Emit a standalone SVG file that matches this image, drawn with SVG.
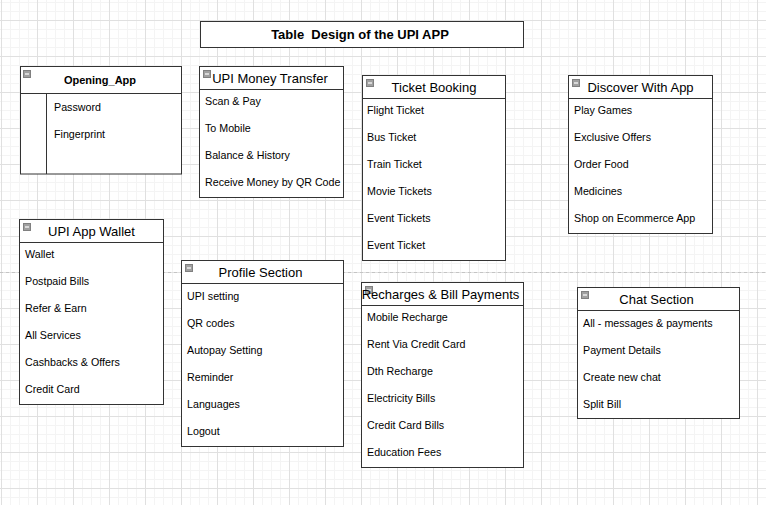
<svg xmlns="http://www.w3.org/2000/svg" width="766" height="505" viewBox="0 0 766 505">
<defs>
<pattern id="minor" patternUnits="userSpaceOnUse" x="1" y="2" width="9" height="9">
<path d="M0.5 0V9M0 0.5H9" stroke="#f4f4f4" stroke-width="1" fill="none"/>
</pattern>
<pattern id="major" patternUnits="userSpaceOnUse" x="1" y="20" width="36" height="36">
<path d="M0.5 0V36M0 0.5H36" stroke="#e0e0e0" stroke-width="1" fill="none"/>
</pattern>
<g id="icon">
<rect x="0.5" y="0.5" width="7" height="7" fill="#a0a0a0" stroke="#808080" stroke-width="1"/>
<path d="M2 4H6" stroke="#fff" stroke-width="1.2"/>
</g>
</defs>
<style>
.box{fill:#fff;stroke:#333;stroke-width:1}
.ln{stroke:#333;stroke-width:1;fill:none}
.t{font-family:"Liberation Sans",Arial,sans-serif;font-size:13px;fill:#000;text-anchor:middle}
.i{font-family:"Liberation Sans",Arial,sans-serif;font-size:10.7px;fill:#000}
.b{font-family:"Liberation Sans",Arial,sans-serif;font-weight:bold;fill:#000;text-anchor:middle}
</style>
<rect width="766" height="505" fill="#fff"/>
<rect width="766" height="505" fill="url(#minor)"/>
<rect width="766" height="505" fill="url(#major)"/>
<path d="M0 272.5H766" stroke="#c4c4c4" stroke-width="1" stroke-dasharray="3,3" fill="none"/>

<g id="title">
<rect class="box" x="200.5" y="21.5" width="323" height="26"/>
<text class="b" x="360" y="39" font-size="13" xml:space="preserve">Table  Design of the UPI APP</text>
</g>

<g id="opening-app">
<rect class="box" x="20.5" y="66.5" width="161" height="107.5"/>
<path class="ln" d="M20.5 93.5H181.5M46.5 93.5V174"/>
<use href="#icon" x="23" y="70"/>
<text class="b" x="100" y="84" font-size="11">Opening_App</text>
<text class="i" x="54" y="111">Password</text>
<text class="i" x="54" y="138">Fingerprint</text>
</g>

<g id="upi-money-transfer">
<rect class="box" x="199.5" y="66.5" width="144" height="131"/>
<path class="ln" d="M199.5 89.5H343.5"/>
<use href="#icon" x="203" y="70"/>
<text class="t" x="270" y="82.5">UPI Money Transfer</text>
<text class="i" x="205" y="105">Scan &amp; Pay</text>
<text class="i" x="205" y="132">To Mobile</text>
<text class="i" x="205" y="159">Balance &amp; History</text>
<text class="i" x="205" y="186">Receive Money by QR Code</text>
</g>

<g id="ticket-booking">
<rect class="box" x="362.5" y="75.5" width="143" height="185"/>
<path class="ln" d="M362.5 98.5H505.5"/>
<use href="#icon" x="366" y="79"/>
<text class="t" x="434" y="91.5">Ticket Booking</text>
<text class="i" x="367" y="114">Flight Ticket</text>
<text class="i" x="367" y="141">Bus Ticket</text>
<text class="i" x="367" y="168">Train Ticket</text>
<text class="i" x="367" y="195">Movie Tickets</text>
<text class="i" x="367" y="222">Event Tickets</text>
<text class="i" x="367" y="249">Event Ticket</text>
</g>

<g id="discover-with-app">
<rect class="box" x="568.5" y="75.5" width="144" height="158"/>
<path class="ln" d="M568.5 98.5H712.5"/>
<use href="#icon" x="572" y="79"/>
<text class="t" x="640.5" y="91.5">Discover With App</text>
<text class="i" x="574" y="114">Play Games</text>
<text class="i" x="574" y="141">Exclusive Offers</text>
<text class="i" x="574" y="168">Order Food</text>
<text class="i" x="574" y="195">Medicines</text>
<text class="i" x="574" y="222">Shop on Ecommerce App</text>
</g>

<g id="upi-app-wallet">
<rect class="box" x="19.5" y="219.5" width="144" height="185"/>
<path class="ln" d="M19.5 242.5H163.5"/>
<use href="#icon" x="23" y="223"/>
<text class="t" x="91.5" y="236">UPI App Wallet</text>
<text class="i" x="25" y="258">Wallet</text>
<text class="i" x="25" y="285">Postpaid Bills</text>
<text class="i" x="25" y="312">Refer &amp; Earn</text>
<text class="i" x="25" y="339">All Services</text>
<text class="i" x="25" y="366">Cashbacks &amp; Offers</text>
<text class="i" x="25" y="393">Credit Card</text>
</g>

<g id="profile-section">
<rect class="box" x="181.5" y="260.5" width="162" height="186"/>
<path class="ln" d="M181.5 283.5H343.5"/>
<use href="#icon" x="185" y="264"/>
<text class="t" x="260.5" y="277">Profile Section</text>
<text class="i" x="187" y="300">UPI setting</text>
<text class="i" x="187" y="327">QR codes</text>
<text class="i" x="187" y="354">Autopay Setting</text>
<text class="i" x="187" y="381">Reminder</text>
<text class="i" x="187" y="408">Languages</text>
<text class="i" x="187" y="435">Logout</text>
</g>

<g id="recharges-bill-payments">
<rect class="box" x="361.5" y="282.5" width="162" height="185"/>
<path class="ln" d="M361.5 305.5H523.5"/>
<use href="#icon" x="365" y="286"/>
<text class="t" x="440.5" y="299">Recharges &amp; Bill Payments</text>
<text class="i" x="367" y="321">Mobile Recharge</text>
<text class="i" x="367" y="348">Rent Via Credit Card</text>
<text class="i" x="367" y="375">Dth Recharge</text>
<text class="i" x="367" y="402">Electricity Bills</text>
<text class="i" x="367" y="429">Credit Card Bills</text>
<text class="i" x="367" y="456">Education Fees</text>
</g>

<g id="chat-section">
<rect class="box" x="577.5" y="287.5" width="162" height="131"/>
<path class="ln" d="M577.5 310.5H739.5"/>
<use href="#icon" x="581" y="291"/>
<text class="t" x="656.5" y="304">Chat Section</text>
<text class="i" x="583" y="327">All - messages &amp; payments</text>
<text class="i" x="583" y="354">Payment Details</text>
<text class="i" x="583" y="381">Create new chat</text>
<text class="i" x="583" y="408">Split Bill</text>
</g>

<g id="connectors"></g>
</svg>
